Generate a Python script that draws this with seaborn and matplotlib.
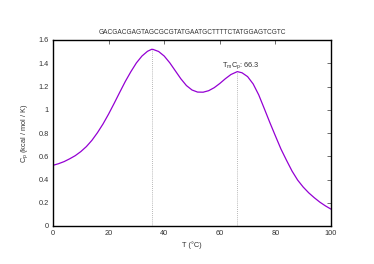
import matplotlib
matplotlib.use("Agg")
import matplotlib.pyplot as plt
import seaborn as sns
import pandas as pd

title = "GACGACGAGTAGCGCGTATGAATGCTTTTCTATGGAGTCGTC"
temps = [0, 2, 4, 6, 8, 10, 12, 14, 16, 18, 20, 22, 24, 26, 28, 30, 32, 34, 35.5, 36,
         38, 40, 42, 44, 46, 48, 50, 52, 54, 56, 58, 60, 62, 64, 66.3, 68, 70, 72, 74,
         76, 78, 80, 82, 84, 86, 88, 90, 92, 94, 96, 98, 100]
cp = [0.522, 0.536, 0.554, 0.578, 0.605, 0.640, 0.683, 0.737, 0.803, 0.878, 0.963,
      1.055, 1.150, 1.243, 1.327, 1.403, 1.462, 1.503, 1.520, 1.519, 1.501, 1.462,
      1.404, 1.335, 1.266, 1.208, 1.170, 1.152, 1.151, 1.164, 1.190, 1.226, 1.267,
      1.303, 1.328, 1.318, 1.285, 1.222, 1.128, 1.010, 0.890, 0.775, 0.662, 0.565,
      0.472, 0.395, 0.335, 0.285, 0.243, 0.205, 0.173, 0.145]
peak_t = [35.5, 66.3]
peak_cp = [1.520, 1.328]
tm_label = "T$_m$C$_p$: 66.3"
xticks = [0, 20, 40, 60, 80, 100]
yticks = [0, 0.2, 0.4, 0.6, 0.8, 1, 1.2, 1.4, 1.6]
ytick_labels = ["0", "0.2", "0.4", "0.6", "0.8", "1", "1.2", "1.4", "1.6"]

sns.set_theme(style="white")
plt.rcParams['font.family'] = ['Liberation Sans', 'DejaVu Sans']
plt.rcParams['mathtext.fontset'] = 'custom'
plt.rcParams['mathtext.rm'] = 'Liberation Sans'
plt.rcParams['mathtext.it'] = 'Liberation Sans'

fig = plt.figure(figsize=(3.74, 2.64), dpi=100)
ax = fig.add_axes([53/374, 1-226/264, (331-53)/374, (226-40)/264])

df = pd.DataFrame({"T": temps, "Cp": cp})
sns.lineplot(data=df, x="T", y="Cp", ax=ax, color="#9400D3", linewidth=0.9)

for t, c in zip(peak_t, peak_cp):
    ax.plot([t, t], [0, c], color="#a0a0a0", linestyle=(0, (1, 1.5)), linewidth=0.6)

ax.text(66.3 - 5.5, 1.333 + 0.035, tm_label, fontsize=5.3, color="#333333")

ax.set_xlim(0, 100)
ax.set_ylim(0, 1.6)
ax.set_xticks(xticks)
ax.set_xticklabels([str(x) for x in xticks])
ax.set_yticks(yticks)
ax.set_yticklabels(ytick_labels)
ax.tick_params(direction="in", length=3, width=0.5, labelsize=5.3, colors="#333333",
               top=True, right=True, pad=3)
for s in ax.spines.values():
    s.set_linewidth(1.0)
    s.set_color("black")
ax.set_xlabel("T (°C)", fontsize=5.3, color="#333333", labelpad=3)
ax.set_ylabel("C$_p$ (kcal / mol / K)", fontsize=5.3, color="#333333", labelpad=6)
ax.set_title(title, fontsize=4.7, color="#333333", pad=4.5)

fig.savefig("out.png", dpi=100)
